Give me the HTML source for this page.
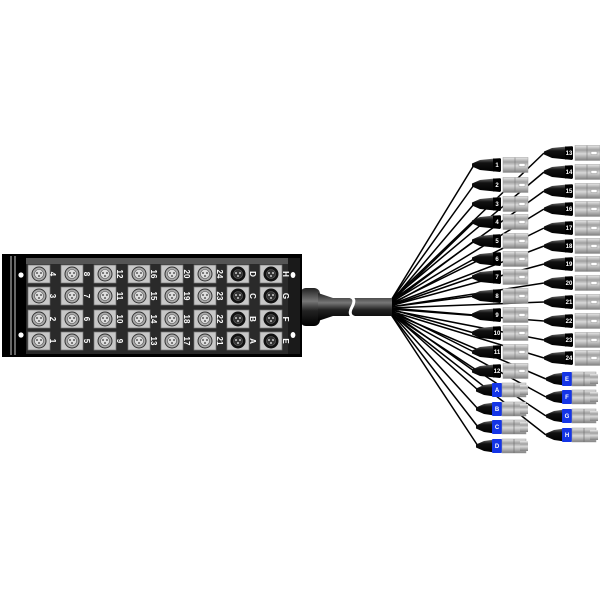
<!DOCTYPE html>
<html><head><meta charset="utf-8"><style>
html,body{margin:0;padding:0;background:#fff;width:600px;height:600px;overflow:hidden}
svg{display:block}
text{font-family:"Liberation Sans",sans-serif;font-weight:bold}
</style></head><body>
<svg width="600" height="600" viewBox="0 0 600 600" xmlns="http://www.w3.org/2000/svg">
<defs>
<linearGradient id="sil" x1="0" y1="0" x2="0" y2="1">
<stop offset="0" stop-color="#e8e8e8"/><stop offset="0.3" stop-color="#a0a0a0"/><stop offset="0.55" stop-color="#d8d8d8"/><stop offset="1" stop-color="#808080"/></linearGradient>
<linearGradient id="boot" x1="0" y1="0" x2="0" y2="1">
<stop offset="0" stop-color="#777"/><stop offset="0.35" stop-color="#111"/><stop offset="1" stop-color="#000"/></linearGradient>
<linearGradient id="cab" x1="0" y1="0" x2="0" y2="1">
<stop offset="0" stop-color="#222"/><stop offset="0.35" stop-color="#777"/><stop offset="0.6" stop-color="#222"/><stop offset="1" stop-color="#000"/></linearGradient>
<g id="fx"><rect x="0" y="0" width="22" height="18" fill="#c8c8c8" stroke="#777" stroke-width="0.7"/><circle cx="11" cy="9" r="7" fill="#aaa" stroke="#333" stroke-width="1"/><circle cx="11" cy="9" r="4.5" fill="#ddd" stroke="#555" stroke-width="0.6"/><circle cx="9" cy="8" r="0.9" fill="#333"/><circle cx="13" cy="8" r="0.9" fill="#333"/><circle cx="11" cy="11" r="0.9" fill="#333"/></g>
<g id="mx"><rect x="0" y="0" width="22" height="18" fill="#c8c8c8" stroke="#777" stroke-width="0.7"/><circle cx="11" cy="9" r="7.5" fill="#111"/><circle cx="11" cy="9" r="4.5" fill="#333" stroke="#666" stroke-width="0.6"/><circle cx="9" cy="8" r="1" fill="#ccc"/><circle cx="13" cy="8" r="1" fill="#ccc"/><circle cx="11" cy="11" r="1" fill="#ccc"/></g>
<g id="mc"><path d="M0,-1.5 L8,-5 L28,-7 L28,7 L8,5 L0,1.5Z" fill="url(#boot)"/><rect x="21" y="-6.5" width="8" height="13" fill="#000"/><rect x="31" y="-7.5" width="25" height="15" fill="url(#sil)" stroke="#999" stroke-width="0.5"/><line x1="43" y1="-7.5" x2="43" y2="7.5" stroke="#777" stroke-width="0.6"/><rect x="47" y="-1.5" width="6" height="3" fill="#fff" stroke="#888" stroke-width="0.4"/></g>
<g id="fc"><path d="M0,-1.5 L8,-5 L22,-7 L22,7 L8,5 L0,1.5Z" fill="url(#boot)"/><rect x="16" y="-7" width="10" height="14" rx="1" fill="#1435e6"/><rect x="26" y="-7" width="24" height="14" fill="url(#sil)" stroke="#999" stroke-width="0.5"/><line x1="38" y1="-7" x2="38" y2="7" stroke="#666" stroke-width="0.6"/><rect x="44" y="-5" width="8" height="10" fill="url(#sil)"/></g>
</defs>

<g stroke="#000" stroke-width="1.5">
<line x1="390" y1="302" x2="474" y2="165"/><line x1="390" y1="302" x2="474" y2="185"/><line x1="390" y1="303" x2="474" y2="204"/><line x1="390" y1="303" x2="474" y2="222"/><line x1="390" y1="304" x2="474" y2="241"/><line x1="390" y1="305" x2="474" y2="259"/><line x1="390" y1="306" x2="474" y2="277"/><line x1="390" y1="307" x2="474" y2="296"/><line x1="390" y1="308" x2="474" y2="315"/><line x1="390" y1="309" x2="474" y2="333"/><line x1="390" y1="310" x2="474" y2="352"/><line x1="390" y1="311" x2="474" y2="371"/><line x1="390" y1="312" x2="478" y2="390"/><line x1="390" y1="312" x2="478" y2="409"/><line x1="390" y1="313" x2="478" y2="427"/><line x1="390" y1="313" x2="478" y2="446"/>
<line x1="390" y1="301" x2="544" y2="153"/><line x1="390" y1="301" x2="544" y2="172"/><line x1="390" y1="302" x2="544" y2="191"/><line x1="390" y1="303" x2="544" y2="209"/><line x1="390" y1="304" x2="544" y2="228"/><line x1="390" y1="305" x2="544" y2="246"/><line x1="390" y1="306" x2="544" y2="264"/><line x1="390" y1="307" x2="544" y2="283"/><line x1="390" y1="308" x2="544" y2="302"/><line x1="390" y1="309" x2="544" y2="321"/><line x1="390" y1="310" x2="544" y2="340"/><line x1="390" y1="311" x2="544" y2="358"/><line x1="390" y1="312" x2="546" y2="379"/><line x1="390" y1="312" x2="546" y2="397"/><line x1="390" y1="313" x2="546" y2="416"/><line x1="390" y1="313" x2="546" y2="435"/>
</g>

<rect x="300" y="288" width="20" height="38" rx="6" fill="url(#cab)"/>
<path d="M318,293 L333,298 L392,298 L392,316 L333,316 L318,321Z" fill="url(#cab)"/>
<path d="M345,296 Q358,296 352,307 Q346,318 360,318" stroke="#fff" stroke-width="3" fill="none"/>

<rect x="2" y="254" width="300" height="103" fill="#000"/>
<rect x="10" y="256" width="2" height="99" fill="#666"/><rect x="14" y="256" width="2" height="99" fill="#666"/>
<rect x="26" y="258" width="262" height="96" fill="#2a2a2a"/>
<rect x="26" y="258" width="262" height="6" fill="#555"/>
<rect x="288" y="258" width="12" height="96" fill="#1a1a1a"/>
<circle cx="21" cy="275" r="2.6" fill="#fff"/><circle cx="21" cy="335" r="2.6" fill="#fff"/>
<ellipse cx="293" cy="275" rx="2.4" ry="3" fill="#fff"/><ellipse cx="293" cy="335" rx="2.4" ry="3" fill="#fff"/>

<g>
<use href="#fx" x="28" y="265"/><use href="#fx" x="28" y="287"/><use href="#fx" x="28" y="310"/><use href="#fx" x="28" y="332"/>
<use href="#fx" x="61" y="265"/><use href="#fx" x="61" y="287"/><use href="#fx" x="61" y="310"/><use href="#fx" x="61" y="332"/>
<use href="#fx" x="94" y="265"/><use href="#fx" x="94" y="287"/><use href="#fx" x="94" y="310"/><use href="#fx" x="94" y="332"/>
<use href="#fx" x="128" y="265"/><use href="#fx" x="128" y="287"/><use href="#fx" x="128" y="310"/><use href="#fx" x="128" y="332"/>
<use href="#fx" x="161" y="265"/><use href="#fx" x="161" y="287"/><use href="#fx" x="161" y="310"/><use href="#fx" x="161" y="332"/>
<use href="#fx" x="194" y="265"/><use href="#fx" x="194" y="287"/><use href="#fx" x="194" y="310"/><use href="#fx" x="194" y="332"/>
<use href="#mx" x="227" y="265"/><use href="#mx" x="227" y="287"/><use href="#mx" x="227" y="310"/><use href="#mx" x="227" y="332"/>
<use href="#mx" x="260" y="265"/><use href="#mx" x="260" y="287"/><use href="#mx" x="260" y="310"/><use href="#mx" x="260" y="332"/>
</g>
<g fill="#fff" font-size="8" text-anchor="middle">
<text transform="translate(53,274) rotate(90)" dy="3">4</text><text transform="translate(53,296) rotate(90)" dy="3">3</text><text transform="translate(53,319) rotate(90)" dy="3">2</text><text transform="translate(53,341) rotate(90)" dy="3">1</text>
<text transform="translate(87,274) rotate(90)" dy="3">8</text><text transform="translate(87,296) rotate(90)" dy="3">7</text><text transform="translate(87,319) rotate(90)" dy="3">6</text><text transform="translate(87,341) rotate(90)" dy="3">5</text>
<text transform="translate(120,274) rotate(90)" dy="3">12</text><text transform="translate(120,296) rotate(90)" dy="3">11</text><text transform="translate(120,319) rotate(90)" dy="3">10</text><text transform="translate(120,341) rotate(90)" dy="3">9</text>
<text transform="translate(154,274) rotate(90)" dy="3">16</text><text transform="translate(154,296) rotate(90)" dy="3">15</text><text transform="translate(154,319) rotate(90)" dy="3">14</text><text transform="translate(154,341) rotate(90)" dy="3">13</text>
<text transform="translate(187,274) rotate(90)" dy="3">20</text><text transform="translate(187,296) rotate(90)" dy="3">19</text><text transform="translate(187,319) rotate(90)" dy="3">18</text><text transform="translate(187,341) rotate(90)" dy="3">17</text>
<text transform="translate(220,274) rotate(90)" dy="3">24</text><text transform="translate(220,296) rotate(90)" dy="3">23</text><text transform="translate(220,319) rotate(90)" dy="3">22</text><text transform="translate(220,341) rotate(90)" dy="3">21</text>
<text transform="translate(253,274) rotate(90)" dy="3">D</text><text transform="translate(253,296) rotate(90)" dy="3">C</text><text transform="translate(253,319) rotate(90)" dy="3">B</text><text transform="translate(253,341) rotate(90)" dy="3">A</text>
<text transform="translate(286,274) rotate(90)" dy="3">H</text><text transform="translate(286,296) rotate(90)" dy="3">G</text><text transform="translate(286,319) rotate(90)" dy="3">F</text><text transform="translate(286,341) rotate(90)" dy="3">E</text>
</g>

<g>
<use href="#mc" x="544" y="153"/><use href="#mc" x="544" y="172"/><use href="#mc" x="544" y="191"/><use href="#mc" x="544" y="209"/><use href="#mc" x="544" y="228"/><use href="#mc" x="544" y="246"/><use href="#mc" x="544" y="264"/><use href="#mc" x="544" y="283"/><use href="#mc" x="544" y="302"/><use href="#mc" x="544" y="321"/><use href="#mc" x="544" y="340"/><use href="#mc" x="544" y="358"/>
<use href="#fc" x="546" y="379"/><use href="#fc" x="546" y="397"/><use href="#fc" x="546" y="416"/><use href="#fc" x="546" y="435"/>
<use href="#mc" x="472" y="165"/><use href="#mc" x="472" y="185"/><use href="#mc" x="472" y="204"/><use href="#mc" x="472" y="222"/><use href="#mc" x="472" y="241"/><use href="#mc" x="472" y="259"/><use href="#mc" x="472" y="277"/><use href="#mc" x="472" y="296"/><use href="#mc" x="472" y="315"/><use href="#mc" x="472" y="333"/><use href="#mc" x="472" y="352"/><use href="#mc" x="472" y="371"/>
<use href="#fc" x="476" y="390"/><use href="#fc" x="476" y="409"/><use href="#fc" x="476" y="427"/><use href="#fc" x="476" y="446"/>
</g>
<g fill="#fff" font-size="6" text-anchor="middle">
<text x="569" y="155">13</text><text x="569" y="174">14</text><text x="569" y="193">15</text><text x="569" y="211">16</text><text x="569" y="230">17</text><text x="569" y="248">18</text><text x="569" y="266">19</text><text x="569" y="285">20</text><text x="569" y="304">21</text><text x="569" y="323">22</text><text x="569" y="342">23</text><text x="569" y="360">24</text>
<text x="567" y="381">E</text><text x="567" y="399">F</text><text x="567" y="418">G</text><text x="567" y="437">H</text>
<text x="497" y="167">1</text><text x="497" y="187">2</text><text x="497" y="206">3</text><text x="497" y="224">4</text><text x="497" y="243">5</text><text x="497" y="261">6</text><text x="497" y="279">7</text><text x="497" y="298">8</text><text x="497" y="317">9</text><text x="497" y="335">10</text><text x="497" y="354">11</text><text x="497" y="373">12</text>
<text x="497" y="392">A</text><text x="497" y="411">B</text><text x="497" y="429">C</text><text x="497" y="448">D</text>
</g>
</svg>
</body></html>
